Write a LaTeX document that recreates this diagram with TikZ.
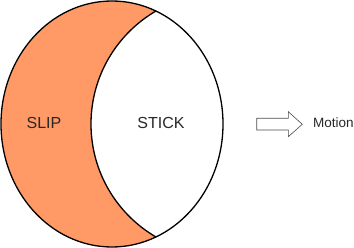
\documentclass[tikz,border=0pt]{standalone}
\usepackage{fontspec}
\setmainfont{Liberation Sans}
\definecolor{slip}{RGB}{255,153,102}
\definecolor{txt}{RGB}{40,40,40}
\begin{document}
\begin{tikzpicture}[x=1pt,y=-1pt,
  outline/.style={draw=black,line width=1.3pt},
  lbl/.style={text=txt,font=\fontsize{16}{18}\selectfont,inner sep=0pt},
  arrowshape/.style={draw=black!70,line width=0.6pt,fill=white,line join=miter}]
\useasboundingbox (0,0) rectangle (354,248);
% orange body
\fill[slip] (112,124) ellipse [x radius=111, y radius=123];
\begin{scope}
  \clip (112,124) ellipse [x radius=111, y radius=123];
  \fill[white] (221.7,124) circle [radius=130.7];
  \draw[outline] (221.7,124) circle [radius=130.7];
\end{scope}
\draw[outline] (112,124) ellipse [x radius=111, y radius=123];
\node[lbl] (slip) at (44,123) {SLIP};
\node[lbl] (stick) at (161,123) {STICK};
% motion arrow
\draw[arrowshape] (256.7,118.3) -- (288.3,118.3) -- (288.3,111.7) -- (302.3,124.3)
  -- (288.3,136.7) -- (288.3,130) -- (256.7,130) -- cycle;
\node[text=txt,font=\fontsize{13.5}{15}\selectfont,inner sep=0pt,anchor=west] (motion) at (313,123) {Motion};
\end{tikzpicture}
\end{document}
